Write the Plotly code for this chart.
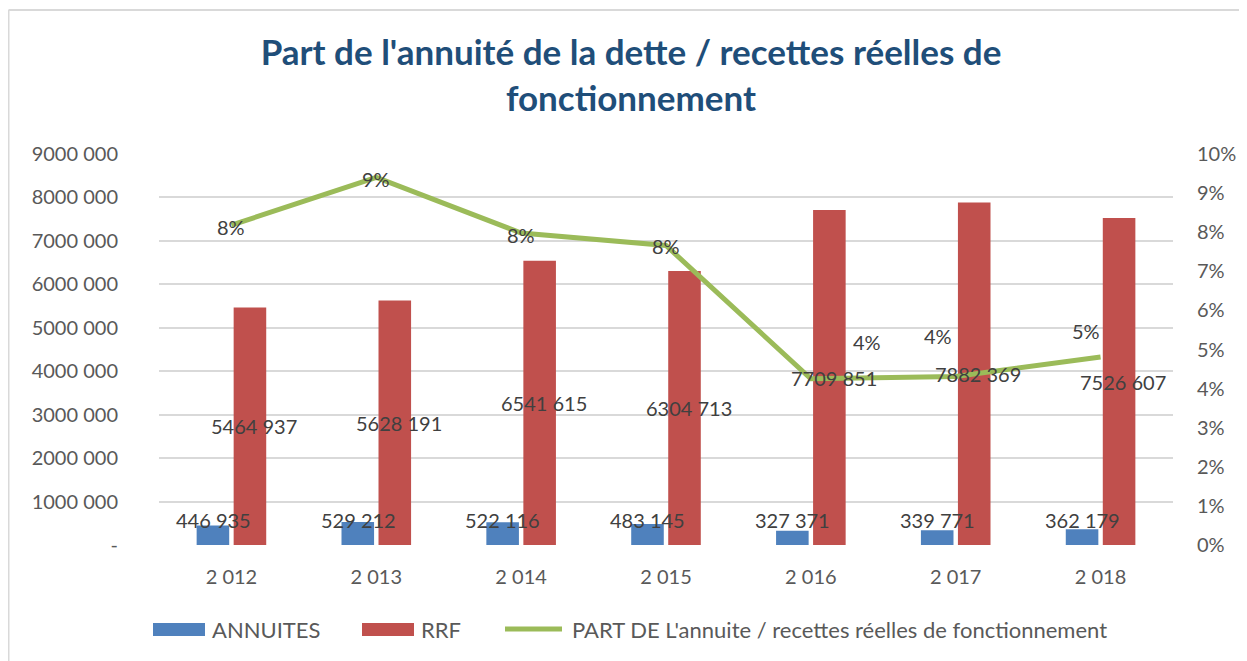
import plotly.graph_objects as go

# ---- data ----
years = ["2 012", "2 013", "2 014", "2 015", "2 016", "2 017", "2 018"]
annuites = [446935, 529212, 522116, 483145, 327371, 339771, 362179]
rrf = [5464937, 5628191, 6541615, 6304713, 7709851, 7882369, 7526607]
part = [0.0818, 0.0940, 0.0798, 0.0766, 0.0425, 0.0431, 0.0481]
left_tickvals = [0, 1000000, 2000000, 3000000, 4000000, 5000000, 6000000, 7000000, 8000000, 9000000]
left_ticktext = ["-", "1000 000", "2000 000", "3000 000", "4000 000", "5000 000",
                 "6000 000", "7000 000", "8000 000", "9000 000"]
series_names = ["ANNUITES", "RRF", "PART DE L'annuite / recettes réelles de fonctionnement"]

# ---- style ----
FONT = "Lato"
GREY = "#595959"
LABEL = "#404040"
BLUE = "#4F81BD"
RED = "#C0504D"
GREEN = "#9BBB59"
OFF = 8  # page body margin
W, H = 1247 - OFF, 661 - OFF
ML, MT = 159 - OFF, 154 - OFF
PR, PB = 1173 - OFF, 545 - OFF
MR, MB = W - PR, H - PB
PW, PH = PR - ML, PB - MT
BAR_OFF = 20.7
ANN_LABEL_Y = 575000
pct_shifts = [(0, -2), (0, -2), (0, -2), (0, -1), (56, 37), (-18, 40), (-15, 26)]


def px(xabs):
    return (xabs - OFF - ML) / PW


def py(yabs):
    return (PB - (yabs - OFF)) / PH


def fmt(v):
    return f"{v // 1000} {v % 1000:03d}"


fig = go.Figure()
fig.add_trace(go.Bar(x=years, y=annuites, name=series_names[0], marker_color=BLUE,
                     marker_line_width=0, yaxis="y"))
fig.add_trace(go.Bar(x=years, y=rrf, name=series_names[1], marker_color=RED,
                     marker_line_width=0, yaxis="y"))
fig.add_trace(go.Scatter(x=years, y=part, name=series_names[2],
                         mode="lines", line=dict(color=GREEN, width=5), yaxis="y2"))

ann = []
for x, v in zip(years, annuites):
    ann.append(dict(x=x, y=ANN_LABEL_Y, xref="x", yref="y", text=fmt(v), showarrow=False,
                    xshift=-BAR_OFF + 2.5, font=dict(family=FONT, size=20, color=LABEL)))
for x, v in zip(years, rrf):
    ann.append(dict(x=x, y=v / 2, xref="x", yref="y", text=fmt(v), showarrow=False,
                    xshift=BAR_OFF + 2, font=dict(family=FONT, size=20, color=LABEL)))
for (x, p), (dx, dy) in zip(zip(years, part), pct_shifts):
    ann.append(dict(x=x, y=p, xref="x", yref="y2", text=f"{round(p * 100)}%", showarrow=False,
                    xshift=dx, yshift=dy, font=dict(family=FONT, size=20, color=LABEL)))

# legend (drawn as swatches + labels)
LEG_Y = 629
legend_items = [
    (BLUE, "rect", 153, 205, 210, series_names[0]),
    (RED, "rect", 362, 414, 419, series_names[1]),
    (GREEN, "line", 505, 562, 570, series_names[2]),
]
shapes = []
for color, kind, x0, x1, tx, label in legend_items:
    if kind == "rect":
        shapes.append(dict(type="rect", xref="paper", yref="paper",
                           x0=px(x0), x1=px(x1), y0=py(LEG_Y + 7), y1=py(LEG_Y - 6),
                           fillcolor=color, line=dict(width=0)))
    else:
        shapes.append(dict(type="line", xref="paper", yref="paper",
                           x0=px(x0), x1=px(x1), y0=py(LEG_Y), y1=py(LEG_Y),
                           line=dict(color=color, width=5)))
    ann.append(dict(x=px(tx), y=py(LEG_Y), xref="paper", yref="paper", text=label,
                    showarrow=False, xanchor="left", yanchor="middle",
                    font=dict(family=FONT, size=22, color=GREY)))

# outer frame (top and left edges of the chart area)
fx0 = (-ML + 0.5) / PW
fy0 = (PB - 2) / PH
shapes += [
    dict(type="line", xref="paper", yref="paper", x0=fx0, x1=(W - ML) / PW, y0=fy0, y1=fy0,
         line=dict(color="#D9D9D9", width=2)),
    dict(type="line", xref="paper", yref="paper", x0=fx0, x1=fx0, y0=fy0, y1=-MB / PH,
         line=dict(color="#D9D9D9", width=2)),
]

fig.update_layout(
    width=W, height=H,
    margin=dict(l=ML, r=MR, t=MT, b=MB, autoexpand=False),
    paper_bgcolor="white", plot_bgcolor="white",
    barmode="group", bargap=0.489, bargroupgap=0.12,
    showlegend=False,
    title=dict(text="Part de l'annuité de la dette / recettes réelles de<br>fonctionnement",
               x=(631 - OFF) / W, xanchor="center", xref="container",
               y=1 - 57 / H, yanchor="top", yref="container",
               font=dict(family=FONT, size=35, color="#1F4E79", weight="bold")),
    font=dict(family=FONT, size=20, color=GREY),
    xaxis=dict(type="category", showgrid=False, showline=False, zeroline=False,
               ticks="outside", ticklen=14, tickcolor="rgba(0,0,0,0)",
               tickfont=dict(family=FONT, size=20, color=GREY)),
    yaxis=dict(range=[0, 9000000], tickvals=left_tickvals, ticktext=left_ticktext,
               showgrid=True, gridcolor="#D9D9D9", gridwidth=1.5, zeroline=False,
               showline=False, ticks="outside", ticklen=36, tickcolor="rgba(0,0,0,0)",
               tickfont=dict(family=FONT, size=20, color=GREY)),
    yaxis2=dict(range=[0, 0.1], dtick=0.01, tickformat=".0%", overlaying="y", side="right",
                showgrid=False, zeroline=False, showline=False,
                ticks="outside", ticklen=19, tickcolor="rgba(0,0,0,0)",
                tickfont=dict(family=FONT, size=20, color=GREY)),
    annotations=ann,
    shapes=shapes,
)

fig.write_html("out.html")
